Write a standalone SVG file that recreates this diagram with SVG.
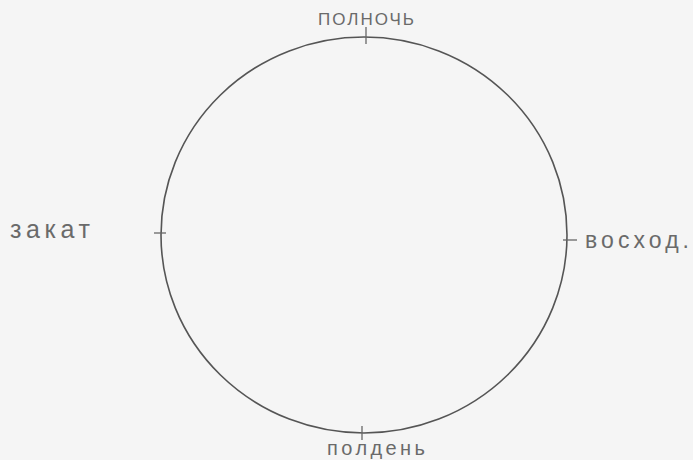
<svg xmlns="http://www.w3.org/2000/svg" width="693" height="460" viewBox="0 0 693 460">
<style>
.lbl{font-family:"Liberation Sans",Arial,sans-serif;fill:#6a6a6a;}
.ln{fill:none;stroke:#555;stroke-width:1.6;}
.tk{stroke:#666;stroke-width:1.3;}
</style>
<rect width="693" height="460" fill="#f5f5f5"/>
<g id="circle">
<ellipse class="ln" cx="364" cy="235" rx="203" ry="198"/>
</g>
<g id="ticks">
<line class="tk" x1="366" y1="27" x2="366" y2="44"/>
<line class="tk" x1="154" y1="233" x2="166" y2="233"/>
<line class="tk" x1="563" y1="240" x2="577" y2="240"/>
<line class="tk" x1="362" y1="426" x2="362" y2="440"/>
</g>
<g id="midnight"><text class="lbl" x="318" y="25" font-size="17" textLength="96" lengthAdjust="spacing">ПОЛНОЧЬ</text></g>
<g id="sunset"><text class="lbl" x="10" y="238" font-size="25" textLength="80" lengthAdjust="spacing">закат</text></g>
<g id="sunrise"><text class="lbl" x="585" y="248" font-size="23" textLength="104" lengthAdjust="spacing">восход.</text></g>
<g id="noon"><text class="lbl" x="327" y="455" font-size="20" textLength="98" lengthAdjust="spacing">полдень</text></g>
</svg>
